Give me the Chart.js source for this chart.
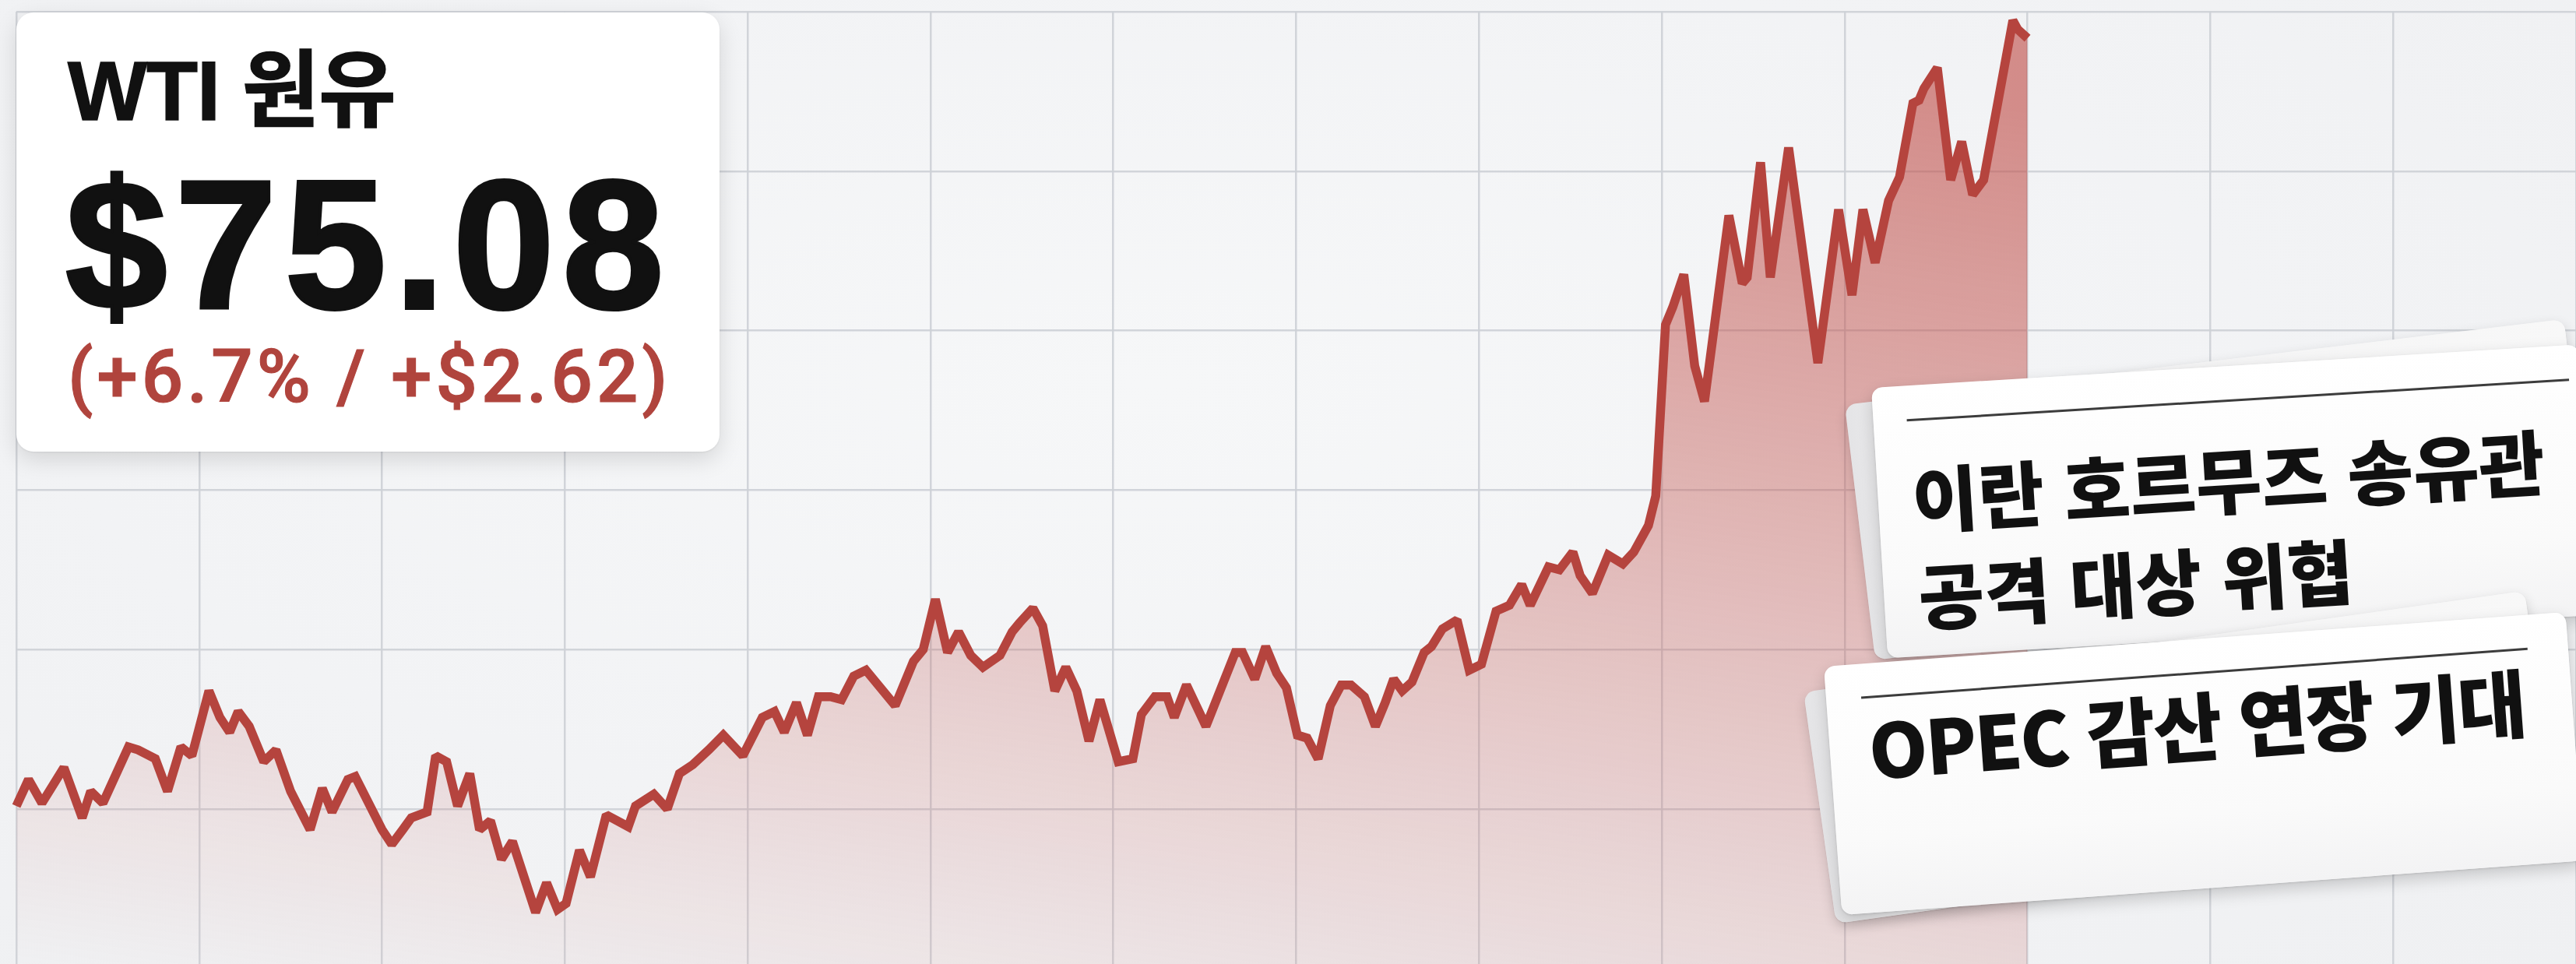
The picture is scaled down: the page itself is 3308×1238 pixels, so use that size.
<!DOCTYPE html>
<html lang="ko">
<head>
<meta charset="utf-8">
<title>WTI 원유</title>
<script src="https://cdn.jsdelivr.net/npm/chart.js@4.4.1/dist/chart.umd.min.js"></script>
<style>
  html, body { margin:0; padding:0; }
  body { width:3308px; height:1238px; overflow:hidden; position:relative;
         background:radial-gradient(ellipse at 45% 40%, #f6f7f8 0%, #f2f3f5 55%, #eff0f2 100%); }
  #c { position:absolute; left:0; top:0; }
  .card1 { position:absolute; left:21px; top:16px; width:903px; height:564px; background:#ffffff;
           border-radius:22px; box-shadow:0 10px 30px rgba(0,0,0,0.13), 0 1px 3px rgba(0,0,0,0.08); }
  .card1 span { position:absolute; white-space:nowrap; line-height:1; }
  .t1 { left:66px; top:47px; font:700 108px "Liberation Sans","Noto Sans CJK KR",sans-serif; color:#111;
        letter-spacing:-1px; -webkit-text-stroke:1.5px #111; }
  .t2 { left:63px; top:181px; font:700 235px "Liberation Sans",sans-serif; color:#111; letter-spacing:10px;
        -webkit-text-stroke:4px #111; }
  .t3 { left:66px; top:421px; font:500 94px "Roboto","Liberation Sans",sans-serif; color:#b0443d; letter-spacing:5px;
        -webkit-text-stroke:1.2px #b0443d; }
  .sheet { position:absolute; transform-origin:0 0; border-radius:14px; }
  .back { background:linear-gradient(90deg,#e4e4e6 0%,#f2f2f3 12%,#f8f8f8 100%);
          box-shadow:0 6px 16px rgba(0,0,0,0.16), 0 1px 2px rgba(0,0,0,0.10); }
  .front { background:linear-gradient(180deg,#ffffff 0%,#fafafa 70%,#f3f3f4 100%);
           box-shadow:0 8px 20px rgba(0,0,0,0.18), 0 1px 3px rgba(0,0,0,0.12); }
  .rule { position:absolute; height:3px; background:#3c3c3c; }
  .news { position:absolute; white-space:nowrap; font-family:"Noto Sans CJK KR",sans-serif; font-weight:800; color:#111; }
</style>
</head>
<body>
<canvas id="c" width="3308" height="1238" style="width:3308px;height:1238px"></canvas>

<div class="card1">
  <span class="t1">WTI 원유</span>
  <span class="t2">$75.08</span>
  <span class="t3">(+6.7% / +$2.62)</span>
</div>

<div class="sheet back"  style="left:2369px; top:520px; width:930px; height:330px; transform:rotate(-6.8deg)"></div>
<div class="sheet front" style="left:2403px; top:498px; width:910px; height:348px; transform:rotate(-3.5deg)">
  <div class="rule" style="left:43px; top:43px; width:852px"></div>
  <div class="news" style="left:44px; top:80px; font-size:92px; line-height:125px">이란 호르무즈 송유관<br>공격 대상 위협</div>
</div>

<div class="sheet back"  style="left:2316px; top:889px; width:935px; height:300px; transform:rotate(-8deg)"></div>
<div class="sheet front" style="left:2342px; top:856px; width:955px; height:320px; transform:rotate(-4.2deg)">
  <div class="rule" style="left:45px; top:42px; width:858px"></div>
  <div class="news" style="left:50px; top:48px; font-size:96px; line-height:120px; letter-spacing:-2.5px">OPEC 감산 연장 기대</div>
</div>

<script>
// ---- data ----
const DAYS = [
  0.0, 1.0, 2.1, 3.9, 5.4, 6.1, 7.1, 9.2, 10.0, 11.4, 12.4, 13.5, 14.4, 15.8, 16.7, 17.5, 18.2, 19.1, 20.3, 21.3,
  22.5, 24.1, 25.1, 25.9, 27.2, 27.8, 30.0, 30.8, 31.7, 32.4, 33.7, 34.4, 35.3, 36.2, 37.2, 38.0, 38.9, 39.8, 40.7, 42.6,
  43.5, 44.4, 45.1, 46.2, 47.1, 48.4, 50.2, 50.8, 52.3, 53.4, 54.4, 55.5, 56.8, 58.0, 59.6, 61.2, 62.2, 63.0, 64.0, 64.9,
  65.8, 66.8, 67.7, 68.7, 69.7, 72.1, 73.6, 74.4, 75.4, 76.4, 77.3, 78.3, 79.3, 80.7, 81.7, 82.3, 83.4, 84.2, 85.2, 86.1,
  87.0, 88.0, 88.9, 90.4, 91.6, 92.3, 93.4, 94.4, 95.0, 96.0, 97.6, 100.0, 100.6, 101.6, 102.5, 103.4, 104.2, 105.1, 105.9, 106.8,
  107.8, 108.7, 109.5, 110.6, 111.5, 112.3, 113.0, 113.7, 114.5, 115.5, 116.1, 117.0, 118.2, 119.2, 120.2, 121.4, 122.5, 123.5, 124.2, 125.7,
  126.6, 127.7, 128.3, 129.3, 130.6, 131.8, 132.7, 133.9, 134.5, 135.3, 135.9, 136.8, 137.7, 138.5, 140.5, 141.6, 142.0, 143.1, 143.9, 145.4,
  147.8, 149.5, 150.6, 151.5, 152.5, 153.6, 154.5, 155.6, 156.1, 156.5, 157.6, 158.7, 159.6, 160.5, 161.4, 163.8, 164.2, 165.0
];
const PRICES = [
  72.48, 72.57, 72.49, 72.61, 72.44, 72.53, 72.49, 72.68, 72.67, 72.64, 72.53, 72.68, 72.65, 72.87, 72.78, 72.73, 72.80, 72.75, 72.63, 72.67,
  72.53, 72.40, 72.54, 72.46, 72.57, 72.58, 72.40, 72.35, 72.40, 72.44, 72.46, 72.65, 72.63, 72.48, 72.59, 72.40, 72.43, 72.30, 72.36, 72.12,
  72.22, 72.13, 72.15, 72.33, 72.24, 72.45, 72.41, 72.48, 72.52, 72.47, 72.59, 72.62, 72.67, 72.72, 72.65, 72.78, 72.80, 72.73, 72.83, 72.72,
  72.85, 72.85, 72.84, 72.92, 72.94, 72.82, 72.97, 73.01, 73.18, 73.00, 73.07, 72.99, 72.95, 72.99, 73.07, 73.10, 73.15, 73.09, 72.87, 72.95,
  72.87, 72.70, 72.84, 72.63, 72.64, 72.79, 72.85, 72.85, 72.78, 72.89, 72.75, 73.00, 73.00, 72.91, 73.02, 72.93, 72.88, 72.72, 72.71, 72.64,
  72.82, 72.89, 72.89, 72.85, 72.75, 72.83, 72.91, 72.87, 72.90, 73.00, 73.02, 73.08, 73.11, 72.94, 72.96, 73.14, 73.16, 73.23, 73.16, 73.29,
  73.28, 73.34, 73.26, 73.20, 73.33, 73.30, 73.34, 73.43, 73.53, 74.11, 74.17, 74.28, 73.97, 73.85, 74.48, 74.25, 74.27, 74.66, 74.27, 74.71,
  73.98, 74.50, 74.21, 74.50, 74.32, 74.53, 74.61, 74.86, 74.87, 74.91, 74.98, 74.60, 74.73, 74.55, 74.60, 75.14, 75.11, 75.08
];
const Y_GRID = [72.47, 73.01, 73.55, 74.09, 74.63, 75.17];
const Y_MIN = 71.945, Y_MAX = 75.17;
const X_MIN = 0, X_MAX = 210, X_STEP = 15;

const points = DAYS.map((d, i) => ({ x: d, y: PRICES[i] }));
let grad = null;
function fillGrad(context) {
  const c = context.chart.ctx;
  if (!grad) {
    grad = c.createLinearGradient(0, 1238, 210, -207);
    grad.addColorStop(0, 'rgba(190,72,66,0.0)');
    grad.addColorStop(1, 'rgba(190,72,66,0.60)');
  }
  return grad;
}
const gridStyle = { color: 'rgba(205,208,214,0.9)', lineWidth: 2.5, drawTicks: false };

const miterPlugin = {
  id: 'miter',
  beforeDatasetsDraw(chart) { chart.ctx.miterLimit = 1.6; }
};

new Chart(document.getElementById('c'), {
  type: 'line',
  data: {
    datasets: [{
      data: points,
      borderColor: '#b5443e',
      borderWidth: 11.5,
      borderJoinStyle: 'miter',
      borderCapStyle: 'butt',
      pointRadius: 0,
      tension: 0,
      fill: 'start',
      backgroundColor: fillGrad,
      clip: false
    }]
  },
  plugins: [miterPlugin],
  options: {
    responsive: false,
    animation: false,
    devicePixelRatio: 1,
    layout: { padding: { left: 21, top: 15, right: 0, bottom: 0 } },
    plugins: { legend: { display: false }, tooltip: { enabled: false } },
    scales: {
      x: {
        type: 'linear', min: X_MIN, max: X_MAX,
        ticks: { display: false, stepSize: X_STEP },
        grid: gridStyle, border: { display: false }
      },
      y: {
        type: 'linear', min: Y_MIN, max: Y_MAX,
        afterBuildTicks: (s) => { s.ticks = Y_GRID.map(v => ({ value: v })); },
        ticks: { display: false },
        grid: gridStyle, border: { display: false }
      }
    }
  }
});
</script>
</body>
</html>
